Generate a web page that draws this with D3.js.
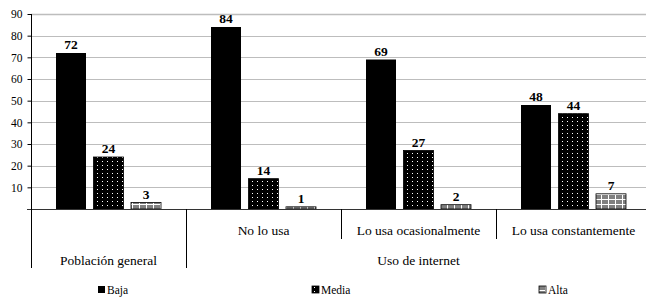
<!DOCTYPE html>
<html><head><meta charset="utf-8">
<script src="https://cdn.jsdelivr.net/npm/d3@7"></script>
<style>html,body{margin:0;padding:0;background:#fff}svg{display:block}
svg text{font-family:"Liberation Serif","Times New Roman","DejaVu Serif",serif !important;}</style>
</head><body>
<svg id="c" width="646" height="301"></svg>
<script>
const categories = ["", "No lo usa", "Lo usa ocasionalmente", "Lo usa constantemente"];
const groupNames = ["Población general", "Uso de internet"];
const groupOf = [0, 1, 1, 1];
const series = ["Baja", "Media", "Alta"];
const baja = [72, 84, 69, 48];
const media = [24, 14, 27, 44];
const alta = [3, 1, 2, 7];
const yTicks = [10, 20, 30, 40, 50, 60, 70, 80, 90];

(function () {
const values = [baja, media, alta];
const svg = d3.select("#c");
const pLeft = 31, pRight = 651, pTop = 14, pBottom = 209;

const defs = svg.append("defs");
const pm = defs.append("pattern").attr("id","pMedia").attr("patternUnits","userSpaceOnUse")
  .attr("width",5).attr("height",4);
pm.append("rect").attr("width",5).attr("height",4).attr("fill","#000");
pm.append("rect").attr("x",2).attr("y",1).attr("width",1).attr("height",1).attr("fill","#fff");
const pa = defs.append("pattern").attr("id","pAlta").attr("patternUnits","userSpaceOnUse")
  .attr("width",7).attr("height",5);
pa.append("rect").attr("width",7).attr("height",5).attr("fill","#808080");
pa.append("rect").attr("x",6).attr("y",0).attr("width",1).attr("height",5).attr("fill","#fff");
pa.append("rect").attr("x",0).attr("y",4).attr("width",7).attr("height",1).attr("fill","#fff");
const fills = ["#000", "url(#pMedia)", "url(#pAlta)"];

const x0 = d3.scaleBand().domain(d3.range(categories.length)).range([pLeft, pRight]).padding(0);
const x1 = d3.scaleBand().domain(series).range([25, 130]).paddingInner(0.2).paddingOuter(0);
const y = d3.scaleLinear().domain([0, 90]).range([pBottom, pTop]);

// gridlines
svg.append("g").selectAll("line").data(yTicks).join("line")
  .attr("x1", pLeft).attr("x2", 646)
  .attr("y1", d => Math.round(y(d)) + 0.5).attr("y2", d => Math.round(y(d)) + 0.5)
  .attr("stroke", "#bdbdbd").attr("stroke-width", (d) => d === 90 ? 1.6 : 1);

// y axis
const yAxis = d3.axisLeft(y).tickValues([0, ...yTicks]).tickSize(4).tickFormat(d => d === 0 ? "" : d);
const ga = svg.append("g").attr("transform", `translate(${pLeft + 0.5},0)`).call(yAxis);
ga.select(".domain").attr("stroke", "#000").attr("d", `M0,${pTop}V${pBottom}`);
ga.selectAll(".tick line").attr("stroke", "#000");
ga.selectAll(".tick text").attr("font-size", 11.5).attr("fill", "#000").attr("x", -9);

// bars
const gBars = svg.append("g");
series.forEach((s, si) => {
  const g = gBars.append("g");
  g.selectAll("rect").data(values[si]).join("rect")
    .attr("x", (d, i) => x0(i) + x1(s))
    .attr("y", d => y(d))
    .attr("width", x1.bandwidth())
    .attr("height", d => pBottom - y(d))
    .attr("fill", fills[si])
    .attr("stroke", si === 0 ? "none" : "#000").attr("stroke-width", 0.8);
  g.selectAll("text").data(values[si]).join("text")
    .attr("x", (d, i) => x0(i) + x1(s) + x1.bandwidth() / 2)
    .attr("y", d => y(d) - 4)
    .attr("text-anchor", "middle").attr("font-weight", "bold")
    .attr("font-size", 13.5).text(d => d);
});

// x axis line
svg.append("line").attr("x1", 27).attr("x2", 646).attr("y1", pBottom + 0.5).attr("y2", pBottom + 0.5)
  .attr("stroke", "#333").attr("stroke-width", 1.2);

// dividers
d3.range(categories.length).forEach(i => {
  const isGroupStart = i === 0 || groupOf[i] !== groupOf[i - 1];
  svg.append("line").attr("x1", Math.round(x0(i)) + 0.5).attr("x2", Math.round(x0(i)) + 0.5)
    .attr("y1", pBottom).attr("y2", isGroupStart ? 268 : 239).attr("stroke", "#000");
});

// sub labels
svg.append("g").selectAll("text").data(categories).join("text")
  .attr("x", (d, i) => x0(i) + x0.bandwidth() / 2).attr("y", 235)
  .attr("text-anchor", "middle").attr("font-size", 13.5).text(d => d);

// group labels
svg.append("g").selectAll("text").data(groupNames).join("text")
  .attr("x", (d, gi) => {
    const idx = d3.range(categories.length).filter(i => groupOf[i] === gi);
    return (x0(idx[0]) + x0(idx[idx.length - 1]) + x0.bandwidth()) / 2;
  })
  .attr("y", 265).attr("text-anchor", "middle").attr("font-size", 13.5).text(d => d);

// legend
const legX = [98, 312, 539];
const lg = svg.append("g").selectAll("g").data(series).join("g")
  .attr("transform", (d, i) => `translate(${legX[i]},286)`);
lg.append("rect").attr("width", 7).attr("height", 7).attr("fill", (d, i) => fills[i])
  .attr("stroke", (d, i) => i === 0 ? "none" : "#000").attr("stroke-width", 0.8);
lg.append("text").attr("x", 9).attr("y", 7.5).attr("font-size", 11.5).text(d => d);
})();
</script>
</body></html>
